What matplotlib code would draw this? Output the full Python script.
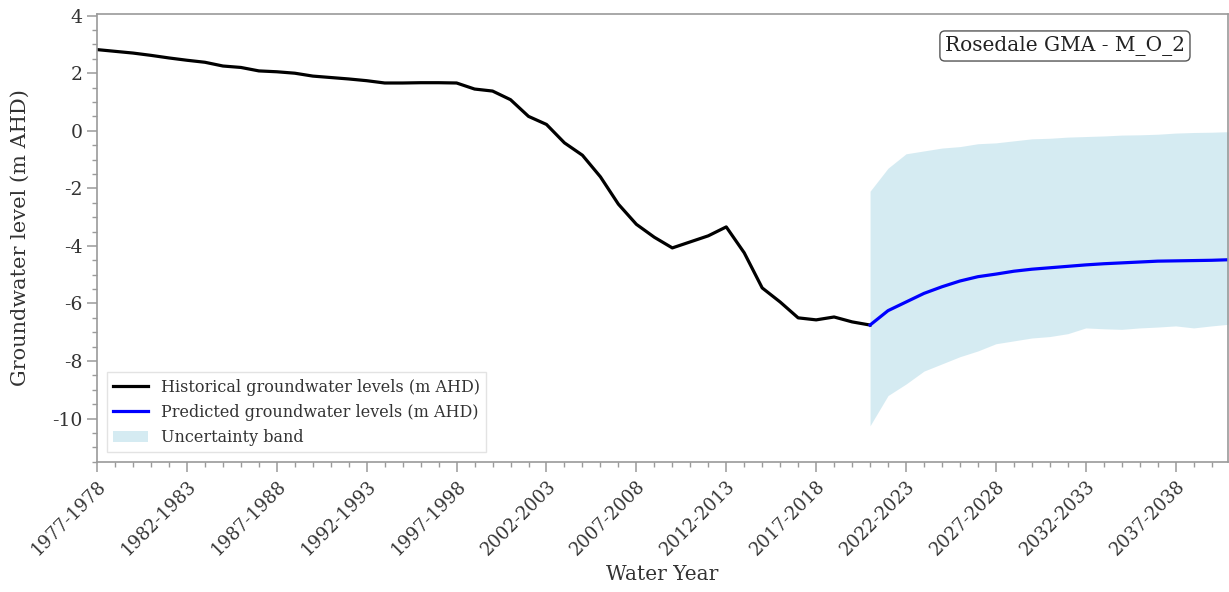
import matplotlib
matplotlib.use("Agg")
from matplotlib import pyplot as plt
from matplotlib.ticker import MultipleLocator
import numpy as np

plt.rcParams['font.family'] = ['DejaVu Serif']
plt.rcParams['axes.unicode_minus'] = False

# water years, 1977-1978 .. 2040-2041
start_years = list(range(1977, 2041))
year_labels = [f"{y}-{y + 1}" for y in start_years]

# historical levels, 1977-1978 .. 2020-2021
hist_levels = [2.82, 2.76, 2.70, 2.62, 2.53, 2.45, 2.38, 2.25, 2.20, 2.08,
               2.05, 2.00, 1.90, 1.85, 1.80, 1.74, 1.66, 1.66, 1.67, 1.67,
               1.66, 1.45, 1.38, 1.08, 0.50, 0.22, -0.42, -0.85, -1.60, -2.55,
               -3.25, -3.70, -4.07, -3.86, -3.65, -3.34, -4.24, -5.46, -5.95, -6.50,
               -6.57, -6.47, -6.64, -6.75]

# predicted levels and band, 2020-2021 .. 2040-2041
pred_levels = [-6.75, -6.25, -5.95, -5.65, -5.42, -5.22, -5.07, -4.98, -4.88, -4.81,
               -4.76, -4.71, -4.66, -4.62, -4.59, -4.56, -4.53, -4.52, -4.51, -4.50,
               -4.48]
band_low = [-10.25, -9.20, -8.80, -8.35, -8.10, -7.85, -7.65, -7.40, -7.30, -7.20,
            -7.15, -7.05, -6.85, -6.88, -6.90, -6.85, -6.82, -6.78, -6.85, -6.78,
            -6.72]
band_high = [-2.10, -1.30, -0.80, -0.70, -0.60, -0.55, -0.45, -0.42, -0.35, -0.28,
             -0.26, -0.22, -0.20, -0.18, -0.15, -0.14, -0.12, -0.08, -0.06, -0.05,
             -0.03]

x_hist = np.arange(len(hist_levels))
x_pred = np.arange(len(hist_levels) - 1, len(hist_levels) - 1 + len(pred_levels))

fig = plt.figure(figsize=(12.29, 5.92), dpi=100)
ax = fig.add_axes([0.079, 0.22, 0.92, 0.756])

ax.fill_between(x_pred, band_low, band_high, color='lightblue', alpha=0.5,
                linewidth=0, label='Uncertainty band')
ax.plot(x_hist, hist_levels, color='black', lw=2.3,
        label='Historical groundwater levels (m AHD)')
ax.plot(x_pred, pred_levels, color='blue', lw=2.3,
        label='Predicted groundwater levels (m AHD)')

ax.set_xlim(0, 62.9)
ax.set_ylim(-11.5, 4.05)
ax.set_xticks(np.arange(0, len(start_years), 5))
ax.set_xticklabels(year_labels[::5], rotation=45, ha='right', rotation_mode='anchor')
ax.xaxis.set_minor_locator(MultipleLocator(1))
ax.yaxis.set_major_locator(MultipleLocator(2))
ax.yaxis.set_minor_locator(MultipleLocator(0.5))

for s in ax.spines.values():
    s.set_color('#9a9a9a')
    s.set_linewidth(1.2)
ax.tick_params(which='major', length=7, width=1.1, color='#9a9a9a',
               labelsize=13.5, labelcolor='#333333')
ax.tick_params(axis='x', which='major', labelsize=13, pad=4)
ax.tick_params(which='minor', length=3.5, width=1.0, color='#9a9a9a')

ax.set_xlabel('Water Year', fontsize=14.5, color='#333333', labelpad=4)
ax.set_ylabel('Groundwater level (m AHD)', fontsize=15, color='#333333', labelpad=16)

h, l = ax.get_legend_handles_labels()
order = [1, 2, 0]
leg = ax.legend([h[i] for i in order], [l[i] for i in order], loc='lower left',
                fontsize=11.5, frameon=True, fancybox=False, borderaxespad=0.6,
                handlelength=2.2)
leg.get_frame().set_edgecolor('#dddddd')
for t in leg.get_texts():
    t.set_color('#333333')

ax.text(0.856, 0.929, 'Rosedale GMA - M_O_2', transform=ax.transAxes,
        ha='center', va='center', fontsize=14.5, color='#222222',
        bbox=dict(boxstyle='round,pad=0.25', fc='white', ec='#555555', lw=1))

plt.savefig('out.png', dpi=100)
